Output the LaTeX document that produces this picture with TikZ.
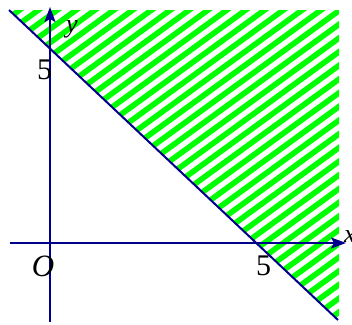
\documentclass[tikz,border=0pt]{standalone}
\usepackage{fontspec}
\setmainfont{Liberation Serif}
\usetikzlibrary{arrows.meta}
\definecolor{axisblue}{RGB}{0,0,140}
\definecolor{hatchgreen}{RGB}{0,255,0}
\tikzset{
  axis/.style={draw=axisblue, line width=2pt, -{Stealth[length=15pt,width=11pt,inset=3pt]}},
  bound/.style={draw=axisblue, line width=2pt},
  hatch/.style={draw=hatchgreen, line width=5.6pt},
  lbl/.style={inner sep=0pt, font=\fontsize{30}{30}\selectfont},
  lblv/.style={inner sep=0pt, font=\fontsize{26}{26}\selectfont\itshape},
}
\begin{document}
\begin{tikzpicture}[x=1pt,y=-1pt]
\useasboundingbox (0,0) rectangle (352,324);
% hatched region
\begin{scope}
  \clip (9,10) -- (339,10) -- (339,320) -- (338,320) -- cycle;
  \foreach \k in {-13,...,30} {
    \pgfmathsetmacro{\b}{175+13.7*\k}
    \draw[hatch] (0,\b) -- (352,\b-256);
  }
\end{scope}
% coordinates
\coordinate (xs) at (10,243);
\coordinate (xe) at (346,243);
\coordinate (ys) at (50,322);
\coordinate (ye) at (50,7);
\coordinate (ls) at (9,10);
\coordinate (le) at (338,320);
% axes
\draw[axis] (xs) -- (xe);
\draw[axis] (ys) -- (ye);
% boundary line
\draw[bound] (ls) -- (le);
% labels
\node[lblv] (ylab) at (72,29) {y};
\node[lblv, anchor=west] (xlab) at (344,237) {x};
\node[lbl] (ofive) at (44.5,70) {5};
\node[lbl] (xfive) at (263.5,266) {5};
\node[lbl, font=\fontsize{31}{31}\selectfont\itshape] (olab) at (43,266) {O};
\end{tikzpicture}
\end{document}
